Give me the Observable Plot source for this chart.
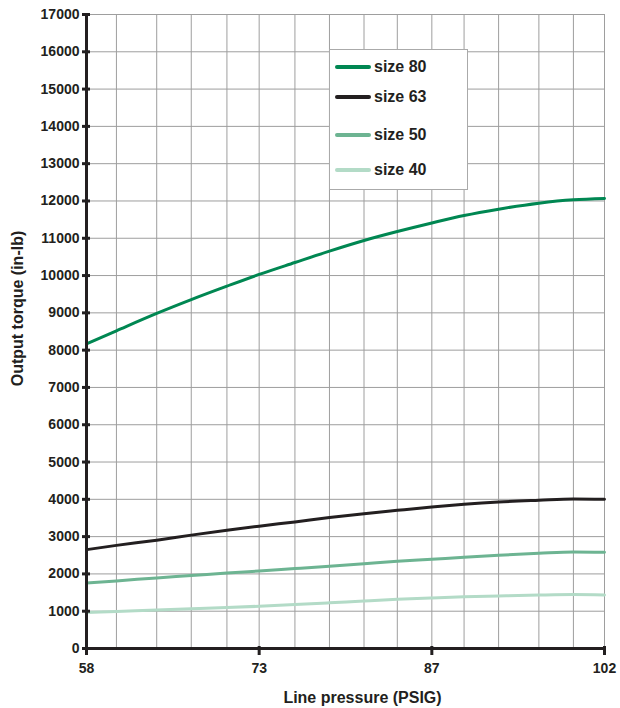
<!DOCTYPE html>
<html>
<head>
<meta charset="utf-8">
<script src="https://cdn.jsdelivr.net/npm/d3@7"></script>
<script src="https://cdn.jsdelivr.net/npm/@observablehq/plot@0.6"></script>
<style>
  html, body { margin: 0; padding: 0; background: #fff; }
  #chart { position: relative; width: 620px; height: 708px; font-family: "Liberation Sans", Arial, Helvetica, sans-serif; }
  #legend { position: absolute; left: 329px; top: 49px; width: 139px; height: 141px; box-sizing: border-box;
            border: 1px solid #aaa; background: #fff; }
  .item { position: absolute; left: 5px; height: 20px; display: flex; align-items: center;
          font-size: 16px; font-weight: bold; color: #231f20; }
  .swatch { width: 36px; height: 4px; border-radius: 2px; margin-right: 3px; }
</style>
</head>
<body>
<div id="chart"></div>
<script>
// Torque output by actuator size versus supply line pressure
const pressureTicks = [58, 73, 87, 102];                 // PSIG (4, 5, 6, 7 bar)
const pressureGrid = [58, 60.6, 64.1, 67.1, 70.2, 73, 75.9, 78.7, 81.5, 84.2, 87, 89.8, 92.8, 96.3, 99.3, 102];
const torqueTicks = [0, 1000, 2000, 3000, 4000, 5000, 6000, 7000, 8000, 9000,
                     10000, 11000, 12000, 13000, 14000, 15000, 16000, 17000];

const sizes = ["size 80", "size 63", "size 50", "size 40"];
const sizeColors = ["#008752", "#231f20", "#6db492", "#b3dbc7"];

// Sample pressures (PSIG) and output torque (in-lb) for each size
const pressure = [58, 60.6, 64.1, 67.1, 70.2, 73, 75.9, 78.7, 81.5, 84.2, 87, 89.8, 92.8, 96.3, 99.3, 102];
const torque80 = [8170, 8520, 8985, 9355, 9715, 10030, 10350, 10655, 10940, 11180, 11410, 11610, 11780, 11940, 12030, 12065];
const torque63 = [2650, 2765, 2905, 3040, 3170, 3280, 3395, 3510, 3615, 3705, 3795, 3868, 3929, 3975, 4008, 4000];
const torque50 = [1758, 1812, 1893, 1956, 2024, 2080, 2144, 2206, 2272, 2338, 2393, 2447, 2501, 2552, 2588, 2580];
const torque40 = [965, 993, 1030, 1063, 1098, 1133, 1178, 1225, 1275, 1320, 1356, 1385, 1410, 1433, 1445, 1435];

const series = [torque80, torque63, torque50, torque40];
const rows = sizes.flatMap((size, k) =>
  pressure.map((p, i) => ({ size, pressure: p, torque: series[k][i] })));

const ink = "#231f20";

const chart = Plot.plot({
  width: 620,
  height: 708,
  marginLeft: 86,
  marginRight: 16,
  marginTop: 14,
  marginBottom: 60,
  style: { fontFamily: "'Liberation Sans', Arial, Helvetica, sans-serif", fontWeight: "bold", color: ink, background: "#fff" },
  x: { type: "linear", domain: pressureTicks },
  y: { domain: [0, 17000] },
  color: { domain: sizes, range: sizeColors },
  marks: [
    Plot.gridX(pressureGrid, { stroke: "#9e9e9e", strokeOpacity: 1, strokeWidth: 1 }),
    Plot.gridY(torqueTicks, { stroke: "#9e9e9e", strokeOpacity: 1, strokeWidth: 1 }),
    Plot.line(rows, { x: "pressure", y: "torque", z: "size", stroke: "size", strokeWidth: 3, curve: "monotone-x" }),
    Plot.ruleX([58], { y1: 0, y2: 17000, stroke: ink, strokeWidth: 3 }),
    Plot.ruleY([0], { stroke: ink, strokeWidth: 3 }),
    Plot.axisY(torqueTicks, { tickSize: 8, dx: 4, tickPadding: 3, stroke: ink, strokeWidth: 3, fontSize: 14, fontWeight: "bold", tickFormat: d => String(d), label: null }),
    Plot.axisX(pressureTicks, { tickSize: 9, dy: -2, tickPadding: 8, stroke: ink, strokeWidth: 3, fontSize: 14, fontWeight: "bold", tickFormat: d => String(d), label: null }),
    Plot.text(["Output torque (in-lb)"], { frameAnchor: "left", rotate: -90, dx: -69, dy: -23, fontSize: 16, fontWeight: "bold", fill: ink, textAnchor: "middle", lineAnchor: "middle" }),
    Plot.text(["Line pressure (PSIG)"], { frameAnchor: "bottom", dx: 17, dy: 49, fontSize: 16, fontWeight: "bold", fill: ink, textAnchor: "middle", lineAnchor: "middle" })
  ]
});

const root = document.getElementById("chart");
root.appendChild(chart);

// Legend box
const legend = document.createElement("div");
legend.id = "legend";
const itemCenters = [17, 47, 85, 120];
sizes.forEach((s, i) => {
  const item = document.createElement("div");
  item.className = "item";
  item.style.top = (itemCenters[i] - 10) + "px";
  const sw = document.createElement("span");
  sw.className = "swatch";
  sw.style.background = sizeColors[i];
  const label = document.createElement("span");
  label.textContent = s;
  item.appendChild(sw);
  item.appendChild(label);
  legend.appendChild(item);
});
root.appendChild(legend);
</script>
</body>
</html>
